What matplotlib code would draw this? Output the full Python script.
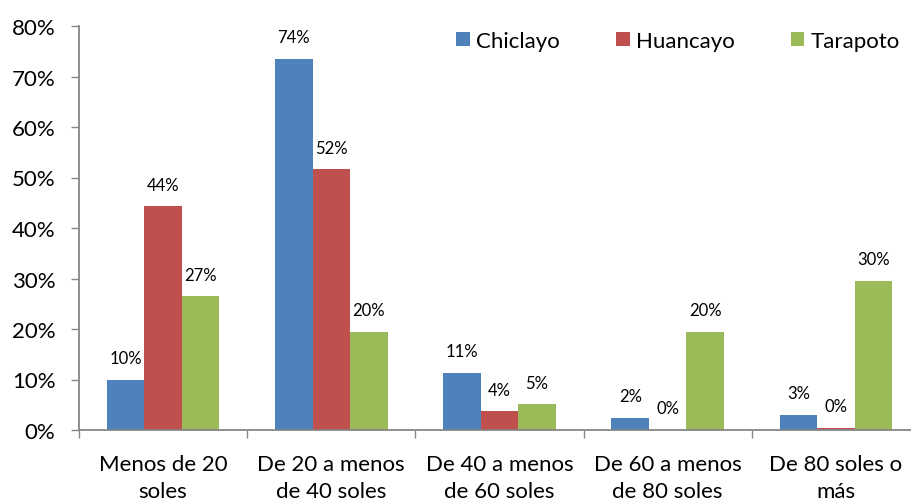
import matplotlib
matplotlib.use("Agg")
import matplotlib.pyplot as plt
import numpy as np
from matplotlib.ticker import PercentFormatter

categories = ["Menos de 20\nsoles", "De 20 a menos\nde 40 soles", "De 40 a menos\nde 60 soles",
              "De 60 a menos\nde 80 soles", "De 80 soles o\nmás"]
series_names = ["Chiclayo", "Huancayo", "Tarapoto"]
chiclayo = [9.9, 73.5, 11.3, 2.4, 3.0]
huancayo = [44.3, 51.6, 3.7, 0.0, 0.4]
tarapoto = [26.5, 19.5, 5.1, 19.5, 29.5]
labels_chiclayo = ["10%", "74%", "11%", "2%", "3%"]
labels_huancayo = ["44%", "52%", "4%", "0%", "0%"]
labels_tarapoto = ["27%", "20%", "5%", "20%", "30%"]
yticks = [0, 10, 20, 30, 40, 50, 60, 70, 80]

colors = ["#4F81BD", "#C0504D", "#9BBB59"]
plt.rcParams['font.family'] = ['Lato', 'DejaVu Sans']

W, H = 911, 502
fig = plt.figure(figsize=(W / 100, H / 100), dpi=100)
ax = fig.add_axes([79 / W, 71 / H, (920 - 79) / W, (431 - 27) / H])

x = np.arange(len(categories))
bw = 0.223
data = [chiclayo, huancayo, tarapoto]
labs = [labels_chiclayo, labels_huancayo, labels_tarapoto]
for i, (vals, lab) in enumerate(zip(data, labs)):
    pos = x + (i - 1) * bw
    ax.bar(pos, vals, bw, color=colors[i], label=series_names[i], edgecolor='none', zorder=2)
    for px, v, t in zip(pos, vals, lab):
        ax.annotate(t, (px, v), xytext=(0, 15.5), textcoords='offset points',
                    ha='center', va='center', fontsize=12, color='#000000')

ax.set_xlim(-0.5, len(categories) - 0.5)
ax.set_ylim(0, 80)
ax.set_yticks(yticks)
ax.yaxis.set_major_formatter(PercentFormatter(decimals=0))
ax.set_xticks(x)
ax.set_xticklabels(categories, fontsize=16, linespacing=1.45)
ax.set_xticks(np.arange(len(categories) + 1) - 0.5, minor=True)
ax.tick_params(axis='x', which='major', length=0, pad=17)
ax.tick_params(axis='x', which='minor', length=6, width=1, color='#868686', direction='out')
ax.tick_params(axis='y', length=6, width=1, color='#868686', direction='out', labelsize=16, pad=11)

for s in ['top', 'right']:
    ax.spines[s].set_visible(False)
for s in ['left', 'bottom']:
    ax.spines[s].set_color('#868686')
    ax.spines[s].set_linewidth(1.3)

leg = fig.legend(loc='center left', bbox_to_anchor=(456 / W, 1 - 42 / H), ncol=3,
                 frameon=False, fontsize=16, handlelength=0.62, handleheight=0.62,
                 handletextpad=0.3, columnspacing=2.5, borderpad=0, borderaxespad=0)

fig.savefig("out.png", dpi=100)
